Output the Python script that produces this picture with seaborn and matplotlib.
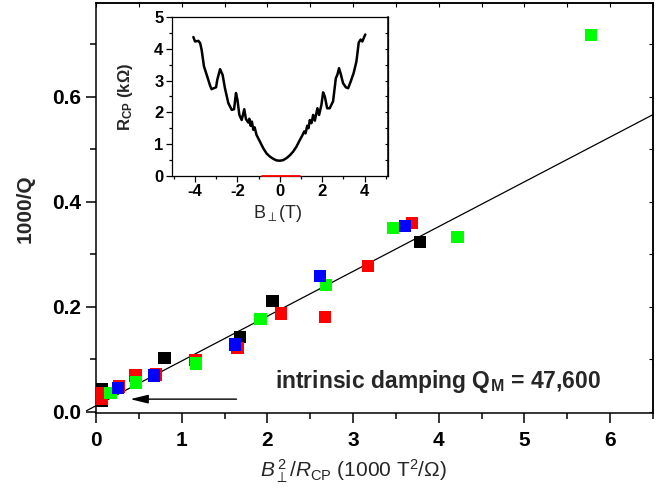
import matplotlib
matplotlib.use("Agg")
import matplotlib.pyplot as plt
import numpy as np
import pandas as pd
import seaborn as sns
from matplotlib.ticker import MultipleLocator, FixedLocator

# ---------------- data ----------------
black_x = [0.07, 0.07, 0.80, 1.68, 2.06, 3.78]
black_y = [0.043, 0.021, 0.103, 0.143, 0.211, 0.323]

red_x = [0.07, 0.07, 0.27, 0.46, 0.70, 1.16, 1.65, 2.16, 2.67, 3.17, 3.69]
red_y = [0.036, 0.024, 0.048, 0.069, 0.071, 0.099, 0.122, 0.187, 0.181, 0.278, 0.360]

green_x = [0.17, 0.467, 1.165, 1.92, 2.68, 3.464, 4.22, 5.78]
green_y = [0.036, 0.0556, 0.092, 0.177, 0.241, 0.350, 0.333, 0.717]

blue_x = [0.256, 0.676, 1.62, 2.61, 3.61]
blue_y = [0.045, 0.069, 0.128, 0.259, 0.354]

fit_x = [-0.11, 6.5]
fit_y = [0.002, 0.566]

arrow_from = (1.64, 0.024)
arrow_to = (0.40, 0.024)

inset_B = [-4.08, -4.00, -3.84, -3.76, -3.69, -3.58, -3.45, -3.29, -3.22, -3.01, -2.95, -2.82,
           -2.70, -2.59, -2.43, -2.27, -2.16, -2.07, -2.00, -1.91, -1.80, -1.68, -1.60, -1.49,
           -1.44, -1.38, -1.32, -1.25, -1.19, -1.10, -0.94, -0.78, -0.63, -0.47, -0.31, -0.16,
           0.00, 0.16, 0.31, 0.47, 0.63, 0.78, 0.94, 1.07, 1.15, 1.21, 1.29, 1.35, 1.41, 1.49,
           1.57, 1.65, 1.77, 1.85, 1.96, 2.04, 2.12, 2.23, 2.35, 2.51, 2.64, 2.71, 2.79, 2.87,
           2.98, 3.11, 3.22, 3.34, 3.48, 3.61, 3.72, 3.81, 3.89, 4.00, 4.03]
inset_R = [4.37, 4.23, 4.25, 4.18, 3.97, 3.45, 3.18, 2.84, 2.73, 2.79, 3.03, 3.36,
           3.18, 2.76, 2.29, 2.08, 2.10, 2.61, 2.39, 1.92, 1.76, 2.10, 1.79, 1.68,
           1.80, 1.58, 1.71, 1.45, 1.53, 1.29, 1.08, 0.87, 0.71, 0.61, 0.54, 0.49,
           0.48, 0.50, 0.56, 0.65, 0.77, 0.92, 1.13, 1.29, 1.40, 1.34, 1.58, 1.50, 1.76, 1.66,
           1.92, 1.74, 2.13, 1.92, 2.24, 2.63, 2.50, 2.13, 2.13, 2.35, 3.08, 3.18, 3.39, 3.21,
           2.92, 2.79, 2.76, 2.97, 3.24, 3.60, 4.20, 4.29, 4.23, 4.41, 4.45]
inset_band = [-0.85, 0.95]

main_xticks = [0, 1, 2, 3, 4, 5, 6]
main_yticks = [0.0, 0.2, 0.4, 0.6]
main_yticklabels = ["0.0", "0.2", "0.4", "0.6"]
inset_xticks = [-4, -2, 0, 2, 4]
inset_yticks = [0, 1, 2, 3, 4, 5]

# ---------------- style ----------------
sns.set_theme(style="ticks")
plt.rcParams.update({
    "font.family": ["Liberation Sans", "DejaVu Sans"],
    "mathtext.fontset": "custom",
    "mathtext.rm": "Liberation Sans",
    "mathtext.it": "Liberation Sans:italic",
    "mathtext.bf": "Liberation Sans:bold",
    "axes.unicode_minus": False,
    "axes.edgecolor": "black",
    "axes.linewidth": 1.1,
    "xtick.color": "black",
    "ytick.color": "black",
})

fig = plt.figure(figsize=(6.61, 4.96), dpi=100)
ax = fig.add_axes([0.1452, 0.1667, 0.8427, 0.8266])

frames = []
for name, xs, ys in [("black", black_x, black_y), ("red", red_x, red_y),
                     ("green", green_x, green_y), ("blue", blue_x, blue_y)]:
    frames.append(pd.DataFrame({"x": xs, "y": ys, "set": name}))
df = pd.concat(frames, ignore_index=True)

palette = {"black": "#000000", "red": "#ff0000", "green": "#00ff00", "blue": "#0000ff"}
sns.scatterplot(data=df, x="x", y="y", hue="set", palette=palette, marker="s", s=78,
                linewidth=0, legend=False, ax=ax, zorder=3)

sns.lineplot(x=fit_x, y=fit_y, color="black", lw=0.9, ax=ax, zorder=2)
ax.lines[-1].set_clip_on(False)

ax.annotate("", xy=arrow_to, xytext=arrow_from,
            arrowprops=dict(arrowstyle="-|>,head_length=0.9,head_width=0.22",
                            color="black", lw=1.0, shrinkA=0, shrinkB=0))

ax.text(2.085, 0.045, r"intrinsic damping Q$_{\mathbf{M}}$ = 47,600",
        fontsize=16.5, fontweight="bold", ha="left", va="baseline")

ax.set_xlim(0, 6.5)
ax.set_ylim(-0.003, 0.778)
ax.xaxis.set_major_locator(FixedLocator(main_xticks))
ax.xaxis.set_minor_locator(MultipleLocator(0.5))
ax.set_yticks(main_yticks)
ax.set_yticklabels(main_yticklabels)
ax.yaxis.set_minor_locator(MultipleLocator(0.1))
ax.tick_params(which="major", direction="out", length=7, width=1.1, labelsize=15)
ax.tick_params(axis="x", which="major", pad=6)
ax.tick_params(axis="y", which="major", pad=4)
ax.tick_params(which="minor", direction="out", length=4, width=1.1)
for lab in ax.get_xticklabels() + ax.get_yticklabels():
    lab.set_fontweight("bold")

top = ax.secondary_xaxis("top")
top.xaxis.set_major_locator(FixedLocator(main_xticks))
top.xaxis.set_minor_locator(MultipleLocator(0.5))
top.tick_params(which="both", direction="in", length=3, width=0.8, labeltop=False)
right = ax.secondary_yaxis("right")
right.set_yticks(main_yticks)
right.yaxis.set_minor_locator(MultipleLocator(0.1))
right.tick_params(which="both", direction="in", length=3, width=0.8, labelright=False)

ax.set_ylabel("1000/Q", fontsize=15, fontweight="bold")
ax.yaxis.set_label_coords(-0.111, 0.5)
ax.set_xlabel(r"$B_{\perp}^{\,2}/R_{\mathrm{CP}}$ (1000 T$^{2}$/Ω)", fontsize=15)
ax.xaxis.set_label_coords(0.463, -0.107)

# ---------------- inset ----------------
ax2 = fig.add_axes([0.2598, 0.6452, 0.3272, 0.3205])
ax2.set_facecolor("white")
sns.lineplot(x=inset_B, y=inset_R, sort=False, color="black", lw=1.8, ax=ax2)
ax2.plot(inset_band, [0, 0], color="#ff0000", lw=1.3, clip_on=False, zorder=5)
ax2.set_xlim(-5.1, 5.1)
ax2.set_ylim(0, 5)
ax2.xaxis.set_major_locator(FixedLocator(inset_xticks))
ax2.xaxis.set_minor_locator(MultipleLocator(1))
ax2.yaxis.set_major_locator(FixedLocator(inset_yticks))
ax2.yaxis.set_minor_locator(MultipleLocator(0.5))
ax2.tick_params(which="major", direction="out", length=4, width=0.9, labelsize=12, pad=2)
ax2.tick_params(which="minor", direction="out", length=2, width=0.9)
for lab in ax2.get_xticklabels() + ax2.get_yticklabels():
    lab.set_fontweight("bold")
for sp in ax2.spines.values():
    sp.set_linewidth(0.9)
r2 = ax2.secondary_yaxis("right")
r2.yaxis.set_major_locator(FixedLocator(inset_yticks))
r2.yaxis.set_minor_locator(MultipleLocator(0.5))
r2.tick_params(which="both", direction="in", length=2.5, width=0.8, labelright=False)
ax2.set_ylabel(r"R$_{\mathbf{CP}}$ (kΩ)", fontsize=12, fontweight="bold")
ax2.yaxis.set_label_coords(-0.17, 0.5)
ax2.set_xlabel(r"B$_{\perp}$(T)", fontsize=13)
ax2.xaxis.set_label_coords(0.49, -0.17)

fig.savefig("out.png", dpi=100)
